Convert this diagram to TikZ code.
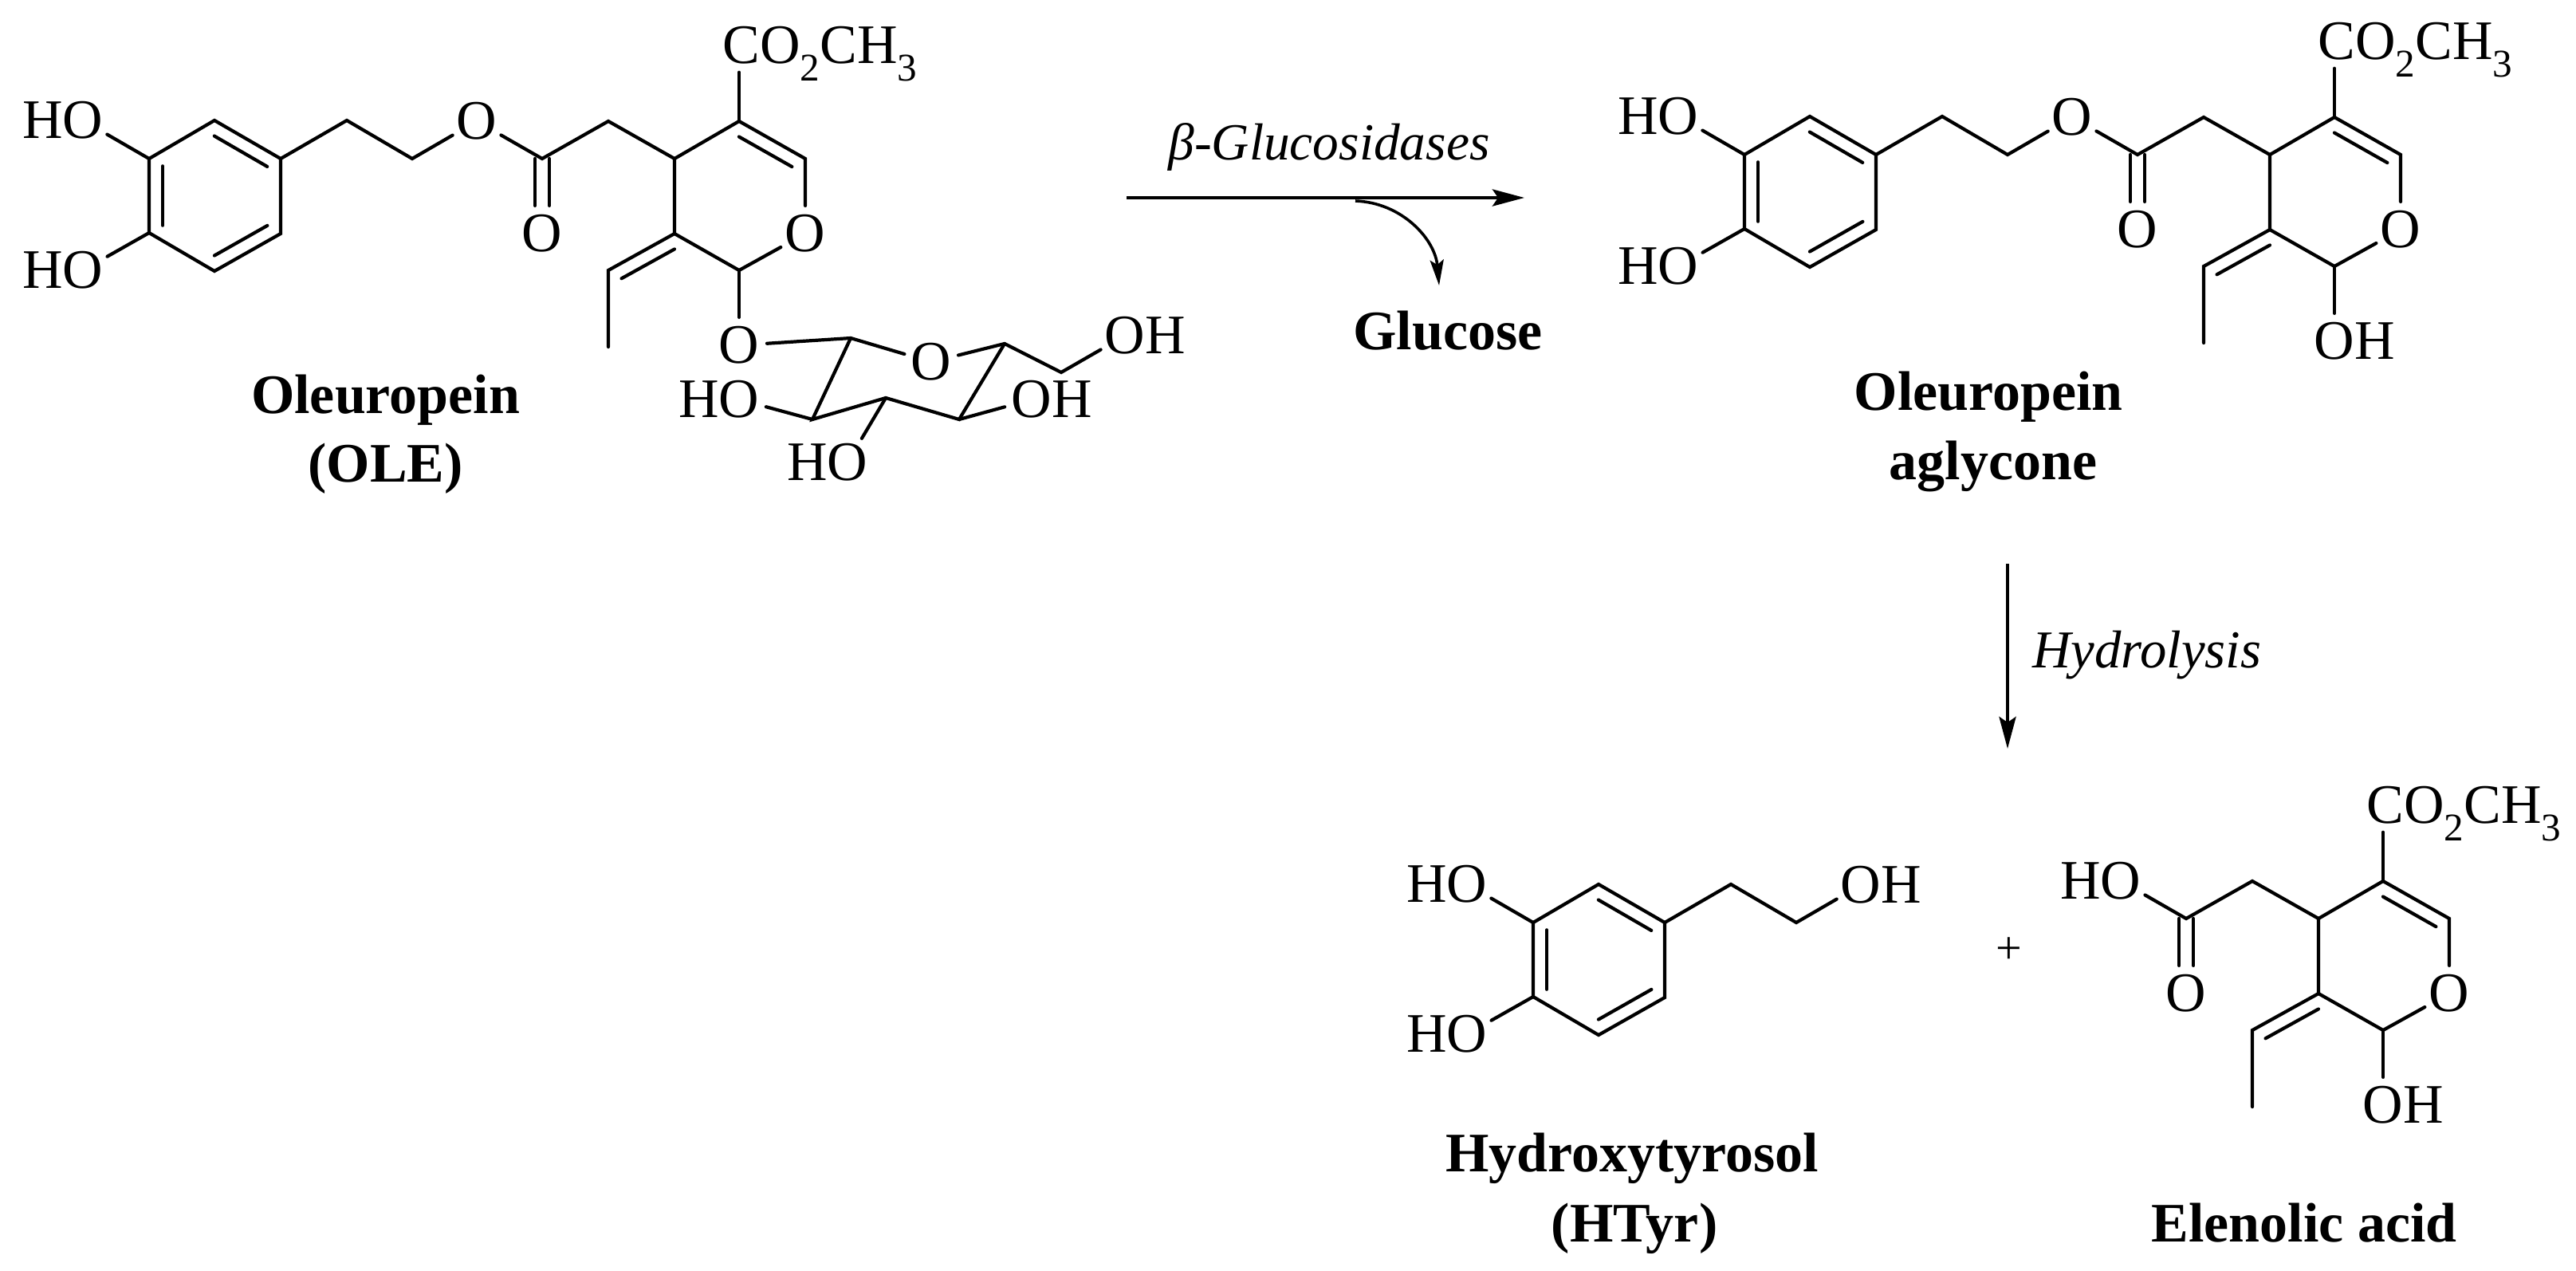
\documentclass[tikz,border=0pt]{standalone}
\usepackage{fontspec}
\setmainfont{Liberation Serif}
\usetikzlibrary{calc, arrows.meta}

\tikzset{
    bond/.style={line width=0.042cm, line cap=round},
    atom/.style={circle, minimum size=0.66cm, inner sep=0pt, font=\fontsize{19.9pt}{24pt}\selectfont},
    chemname/.style={anchor=base, inner sep=0pt, font=\fontsize{19.9pt}{24pt}\selectfont\bfseries},
    enzyme/.style={anchor=base, inner sep=0pt, font=\fontsize{19pt}{24pt}\selectfont\itshape},
    rxn/.style={line width=0.046cm, -{Stealth[length=0.4cm, width=0.21cm, inset=0.07cm]}},
    byprod/.style={line width=0.036cm, -{Stealth[length=0.32cm, width=0.17cm, inset=0.06cm]}}
}
\newcommand{\subdig}[1]{\raisebox{-0.22cm}[0pt][0pt]{\fontsize{14pt}{14pt}\selectfont #1}}
\newcommand{\innerbond}[2]{\draw[bond] ($(#1)!0.1!(#2)!0.17cm!90:(#2)$) -- ($(#2)!0.1!(#1)!0.17cm!-90:(#1)$);}
% 苯二酚环 + 乙基链, #1 = 链端的氧
\newcommand{\catechol}[1]{
    \coordinate (r1) at (1.87,-1.99);
    \coordinate (r2) at (2.69,-1.51);
    \coordinate (r3) at (3.52,-1.99);
    \coordinate (r4) at (3.52,-2.93);
    \coordinate (r5) at (2.69,-3.40);
    \coordinate (r6) at (1.87,-2.92);
    \coordinate (a1) at (4.35,-1.51);
    \coordinate (a2) at (5.17,-1.99);
    \node[atom] (hoa) at (1.04,-1.51) {\llap{H}O};
    \node[atom] (hob) at (1.04,-3.39) {\llap{H}O};
    \node[atom] (oe) at (5.98,-1.52) {#1};
    \draw[bond] (r1) -- (r2) -- (r3) -- (r4) -- (r5) -- (r6) -- cycle;
    \innerbond{r1}{r6}
    \innerbond{r3}{r2}
    \innerbond{r5}{r4}
    \draw[bond] (r1) -- (hoa);
    \draw[bond] (r6) -- (hob);
    \draw[bond] (r3) -- (a1) -- (a2) -- (oe);
}
% 烯醇酸骨架, #1 = C-1 上的取代基
\newcommand{\secoring}[1]{
    \coordinate (c1) at (6.80,-1.99);
    \coordinate (c2) at (7.63,-1.52);
    \coordinate (s1) at (8.46,-1.99);
    \coordinate (s2) at (9.27,-1.52);
    \coordinate (s3) at (10.10,-1.99);
    \coordinate (s5) at (9.27,-3.39);
    \coordinate (s6) at (8.46,-2.93);
    \coordinate (v1) at (7.63,-3.39);
    \coordinate (v2) at (7.63,-4.35);
    \node[atom] (oc) at (6.80,-2.93) {O};
    \node[atom] (op) at (10.10,-2.93) {O};
    \node[atom] (os) at (9.27,-4.33) {#1};
    \node[atom] (est) at (9.30,-0.57) {C\rlap{O\subdig{2}CH\subdig{3}}};
    \draw[bond] (oe) -- (c1) -- (c2) -- (s1);
    \draw[bond] ($(c1)+(-0.09,0)$) -- ($(oc.north)+(-0.09,0)$);
    \draw[bond] ($(c1)+(0.09,0)$) -- ($(oc.north)+(0.09,0)$);
    \draw[bond] (op) -- (s3) -- (s2) -- (s1) -- (s6) -- (s5) -- (op);
    \innerbond{s3}{s2}
    \draw[bond] (s2) -- (s2 |- est.south);
    \draw[bond] (s5) -- (os);
    \draw[bond] (s6) -- (v1) -- (v2);
    \innerbond{s6}{v1}
}

\begin{document}
\begin{tikzpicture}[scale=1]
    \useasboundingbox (0,0) rectangle (32.31,-15.93);
    % 橄榄苦苷 OLE
    \begin{scope}[name prefix=ole-]
        \catechol{O}
        \secoring{O}
        % 葡萄糖
        \coordinate (g1) at (10.67,-4.24);
        \coordinate (g2) at (12.60,-4.31);
        \coordinate (g3) at (12.03,-5.26);
        \coordinate (g4) at (11.11,-4.99);
        \coordinate (g5) at (10.19,-5.26);
        \coordinate (g6) at (13.31,-4.67);
        \node[atom] (og) at (11.68,-4.54) {O};
        \node[atom] (oha) at (14.11,-4.21) {O\rlap{H}};
        \node[atom] (ohb) at (12.94,-5.01) {O\rlap{H}};
        \node[atom] (ohc) at (10.63,-5.80) {\llap{H}O};
        \node[atom] (ohd) at (9.27,-5.01) {\llap{H}O};
        \draw[bond] (os) -- (g1) -- (og) -- (g2) -- (g6) -- (oha);
        \draw[bond] (g2) -- (g3) -- (g4) -- (g5) -- (g1);
        \draw[bond] (g3) -- (ohb);
        \draw[bond] (g4) -- (ohc);
        \draw[bond] (g5) -- (ohd);
    \end{scope}
    \node[chemname] (ole1) at (4.835,-5.18) {Oleuropein};
    \node[chemname] (ole2) at (4.835,-6.04) {(OLE)};

    % 苷元
    \begin{scope}[shift={(20.01,0.05)}, name prefix=agl-]
        \catechol{O}
        \secoring{O\rlap{H}}
    \end{scope}
    \node[chemname] (agl1) at (24.94,-5.14) {Oleuropein};
    \node[chemname] (agl2) at (25.00,-6.01) {aglycone};

    % 羟基酪醇
    \begin{scope}[shift={(17.36,-9.58)}, name prefix=hty-]
        \catechol{O\rlap{H}}
    \end{scope}
    \node[chemname] (hty1) at (20.47,-14.69) {Hydroxytyrosol};
    \node[chemname] (hty2) at (20.50,-15.57) {(HTyr)};

    % 加号
    \node[font=\fontsize{16.5pt}{20pt}\selectfont, inner sep=0pt] (plus) at (25.20,-11.92) {+};

    % 烯醇酸
    \begin{scope}[shift={(20.62,-9.53)}, name prefix=ele-]
        \node[atom] (oe) at (5.98,-1.52) {\llap{H}O};
        \secoring{O\rlap{H}}
    \end{scope}
    \node[chemname] (ele1) at (28.90,-15.57) {Elenolic acid};

    % 水解箭头
    \coordinate (hyd1) at (25.18,-7.07);
    \coordinate (hyd2) at (25.18,-9.39);
    \draw[rxn] (hyd1) -- (hyd2);
    \node[enzyme] (hyd) at (26.93,-8.37) {Hydrolysis};

    % 酶解箭头
    \coordinate (glu1) at (14.13,-2.48);
    \coordinate (glu2) at (19.12,-2.48);
    \coordinate (glu3) at (17.00,-2.52);
    \coordinate (glu4) at (18.05,-3.58);
    \draw[rxn] (glu1) -- (glu2);
    \draw[byprod] (glu3) to[out=-2, in=95] (glu4);
    \node[enzyme, font=\fontsize{18.6pt}{24pt}\selectfont\itshape] (enz) at (16.67,-2.00) {β-Glucosidases};
    \node[chemname] (glc) at (18.16,-4.38) {Glucose};
\end{tikzpicture}
\end{document}
